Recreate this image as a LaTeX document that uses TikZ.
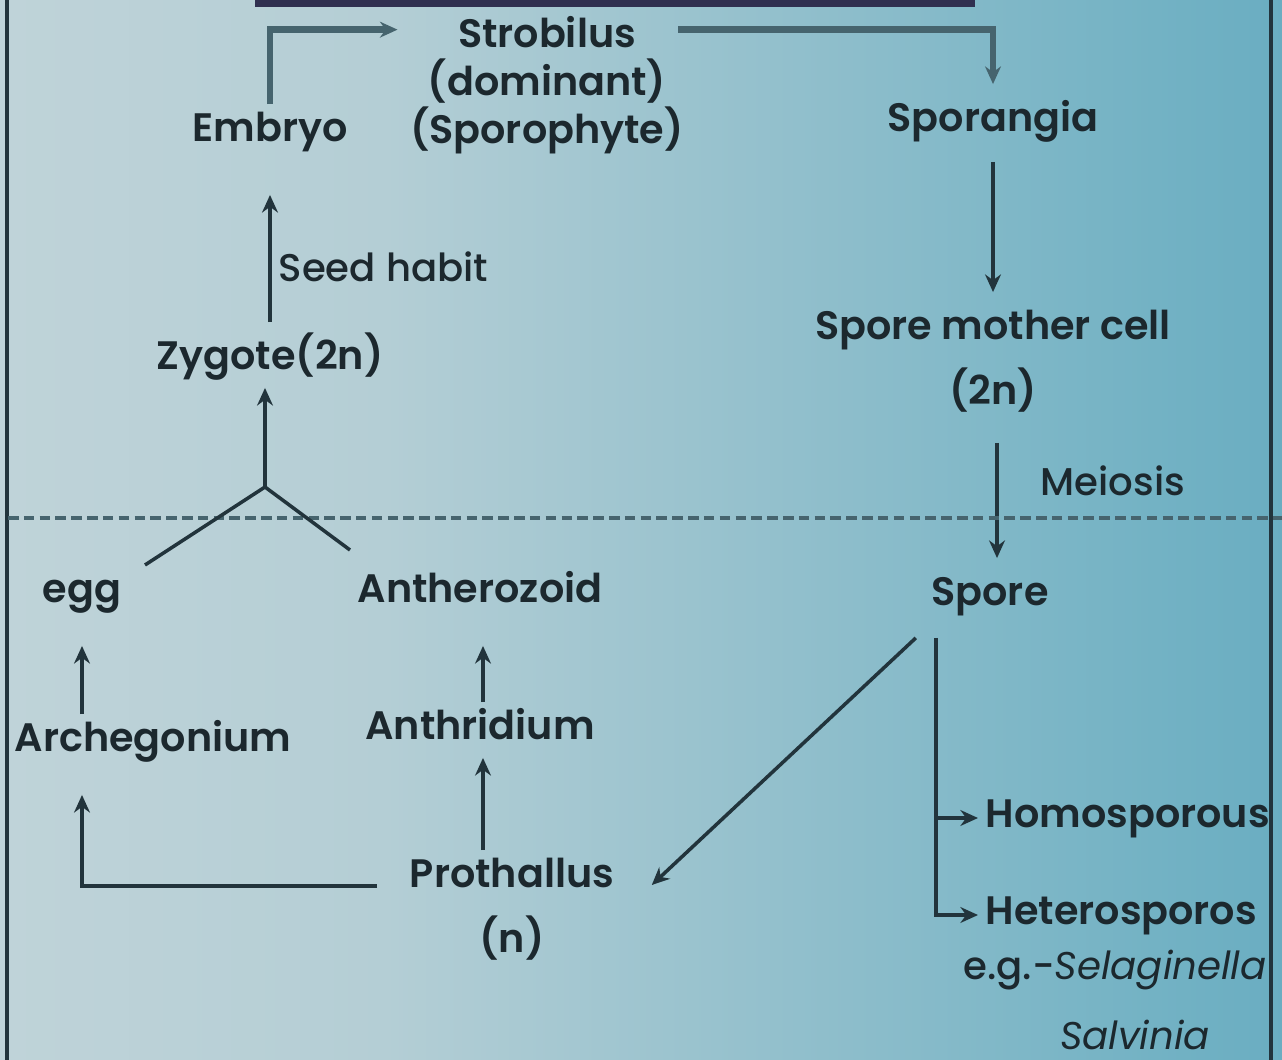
\documentclass[tikz,border=0pt]{standalone}
\usepackage{fontspec}
\setmainfont{Poppins}[UprightFont=* Medium, BoldFont=* SemiBold, ItalicFont=* Italic]
\usetikzlibrary{positioning, arrows.meta, calc}
\definecolor{ink}{RGB}{28,40,46}
\definecolor{wire}{RGB}{34,52,60}
\definecolor{grey}{RGB}{70,100,110}
\definecolor{navy}{RGB}{48,48,80}
\definecolor{bgA}{RGB}{210,220,223}
\definecolor{bgB}{RGB}{180,206,213}
\definecolor{bgC}{RGB}{115,178,196}
\definecolor{bgD}{RGB}{62,150,178}
\pgfdeclarehorizontalshading{slide}{100bp}{color(0bp)=(bgA); color(40bp)=(bgB); color(70bp)=(bgC); color(100bp)=(bgD)}
\tikzset{
  stage/.style={
    font=\bfseries\fontsize{11.3}{13}\selectfont, text=ink,
    inner sep=2pt, text height=8.5pt, text depth=3pt
  },
  multi/.style={
    font=\bfseries\fontsize{11.3}{13.6}\selectfont, text=ink,
    inner sep=2pt, align=center
  },
  note/.style={font=\fontsize{11}{13}\selectfont, text=ink, inner sep=2pt},
  arr/.style={-{Stealth[length=5pt, width=4.5pt]}, line width=1pt, wire},
  link/.style={line width=1pt, wire},
  bar/.style={-{Stealth[length=5pt, width=4.5pt]}, line width=1.8pt, grey},
  divide/.style={dashed, dash pattern=on 3pt off 1.5pt, line width=1.2pt, grey},
  frame/.style={line width=1.2pt, wire},
}

\begin{document}
\begin{tikzpicture}

  %% ── Slide background ───────────────────────────────────────────────────────

  \useasboundingbox (0,0) rectangle (12.82,-10.60);
  \shade[shading=slide] (0,0) rectangle (12.82,-10.60);
  \fill[navy] (2.55,0) rectangle (9.75,-0.07);
  \draw[frame] (0.07,0) -- (0.07,-10.60);
  \draw[frame] (12.71,0) -- (12.71,-10.60);

  %% ── Sporophyte generation ──────────────────────────────────────────────────

  \node[multi] (strob) at (5.47,-0.85) {Strobilus\\(dominant)\\(Sporophyte)};
  \node[stage] (embryo) at (2.70,-1.32) {Embryo};
  \node[stage] (spor)   at (9.93,-1.22) {Sporangia};
  \node[stage] (zyg)    at (2.70,-3.60) {Zygote(2n)};
  \node[stage] (smc)    at (9.93,-3.30) {Spore mother cell};
  \node[stage] (smcn)   at (9.93,-3.95) {(2n)};
  \node[stage] (spore)  at (9.90,-5.96) {Spore};

  \draw[bar] (embryo.north) |- ([shift={(-0.05,-0.21)}]strob.north west);
  \draw[bar] ([shift={(-0.13,-0.21)}]strob.north east) -| ([yshift=0.1cm]spor.north);
  \draw[arr, shorten <=0.1cm, shorten >=0.35cm] (zyg.north) -- (embryo.south)
    node[pos=0.38, right, note] {Seed habit};
  \draw[arr, shorten <=0.12cm, shorten >=0.1cm] (spor.south) -- (smc.north);
  \draw[arr, shorten <=0.2cm, shorten >=0.1cm] ([xshift=0.04cm]smcn.south) -- ([xshift=0.04cm]smcn.south |- spore.north)
    node[pos=0.4, right, note, xshift=0.35cm] {Meiosis};

  % haploid / diploid divide
  \draw[divide] (0.08,-5.18) -- (12.82,-5.18);

  %% ── Gametophyte generation ─────────────────────────────────────────────────

  \node[stage] (egg)   at (0.82,-5.93) {egg};
  \node[stage] (antz)  at (4.80,-5.93) {Antherozoid};
  \node[stage] (arch)  at (1.53,-7.42) {Archegonium};
  \node[stage] (anth)  at (4.80,-7.30) {Anthridium};
  \node[stage] (proth) at (5.12,-8.78) {Prothallus};
  \node[stage] (prothn) at (5.12,-9.43) {(n)};

  % fertilisation
  \coordinate (fert)    at (2.65,-4.87);
  \coordinate (eggtip)  at (1.45,-5.65);
  \coordinate (antztip) at (3.50,-5.50);
  \draw[link] (eggtip) -- (fert) -- (antztip);
  \draw[arr] (fert) -- (fert |- zyg.south);

  \draw[arr, shorten >=0.25cm] (egg.south |- arch.north) -- (egg.south);
  \draw[arr, shorten >=0.25cm] ([xshift=0.03cm]anth.north) -- ([xshift=0.03cm]antz.south);
  \draw[arr] ([xshift=0.03cm]anth.south |- proth.north) -- ([xshift=0.03cm]anth.south);
  \draw[arr, shorten <=0.25cm, shorten >=0.25cm] ([yshift=-0.08cm]proth.west) -| (egg.south |- arch.south);
  \draw[arr] ([shift={(-0.08,-0.14)}]spore.south west) -- ([shift={(0.3,-0.07)}]proth.east);

  %% ── Spore types ────────────────────────────────────────────────────────────

  \node[stage, anchor=west] (homo)   at (9.78,-8.18) {Homosporous};
  \node[stage, anchor=west] (hetero) at (9.78,-9.15) {Heterosporos};
  \node[note] (eg)   at (11.15,-9.70)  {e.g.-\textit{Selaginella}};
  \node[note] (salv) at (11.35,-10.35) {\textit{Salvinia}};

  \coordinate (trunk) at ([shift={(0.12,-0.14)}]spore.south west);
  \draw[arr] (trunk) |- (hetero.west);
  \draw[arr] (trunk |- homo.west) -- (homo.west);

\end{tikzpicture}
\end{document}
